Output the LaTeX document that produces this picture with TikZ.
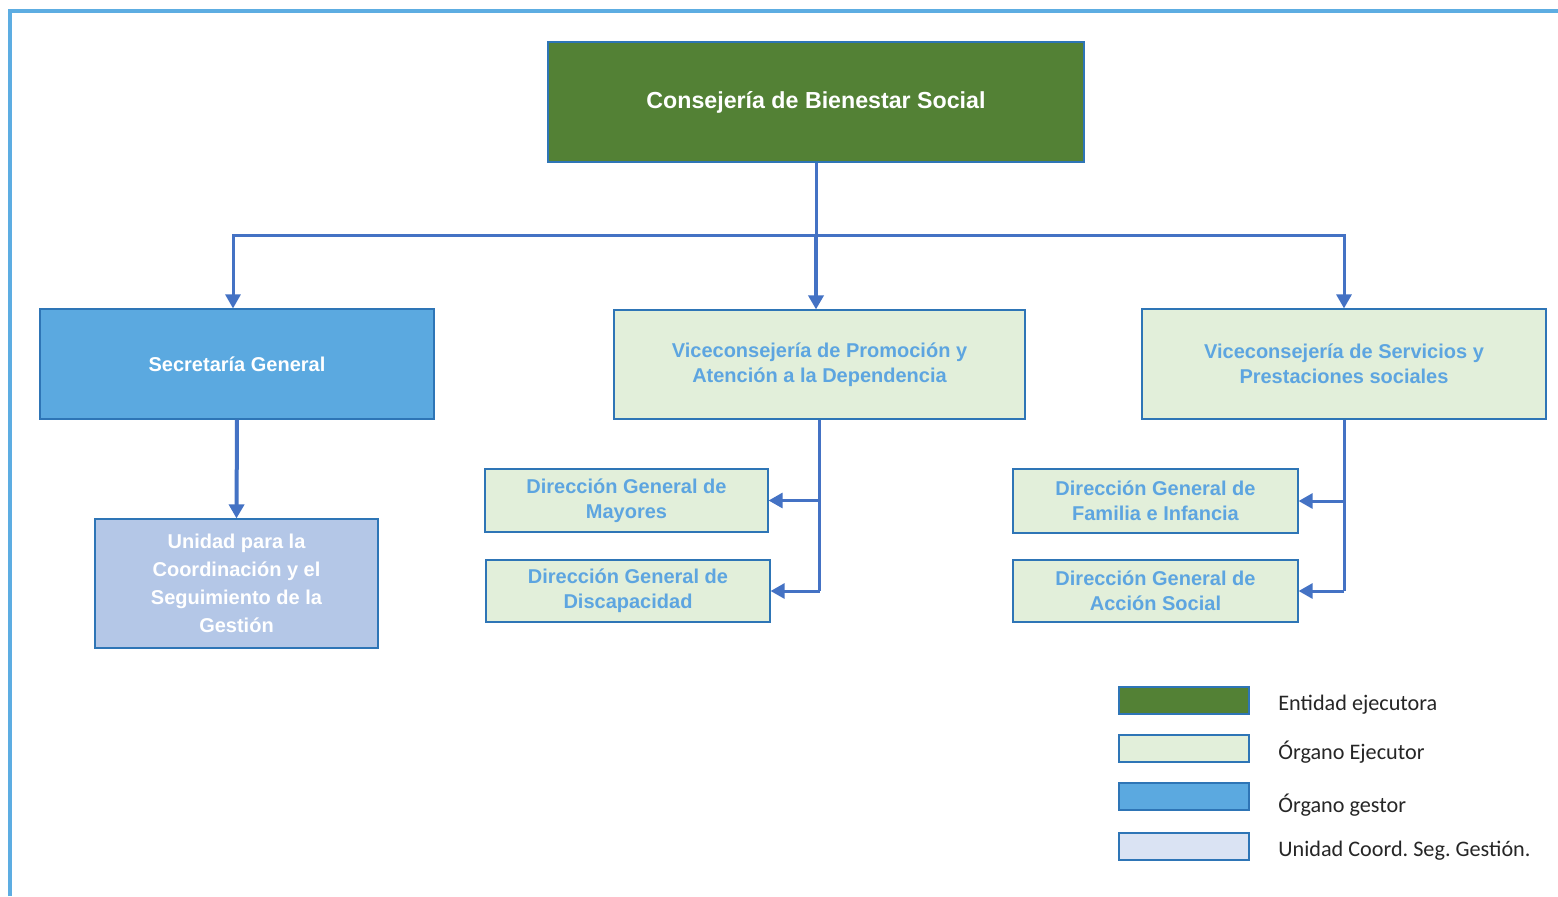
\documentclass[tikz,border=0pt]{standalone}
\usepackage{fontspec}
\setmainfont{Liberation Sans}
\newfontfamily\legfont{Carlito}
\usetikzlibrary{arrows.meta}
\definecolor{cgreen}{HTML}{538135}
\definecolor{cblue}{HTML}{5BA9E0}
\definecolor{clgreen}{HTML}{E2EFDA}
\definecolor{clav}{HTML}{B4C7E7}
\definecolor{clav2}{HTML}{DAE3F3}
\definecolor{cborder}{HTML}{2E75B6}
\definecolor{ctext}{HTML}{5DA5E0}
\definecolor{cconn}{HTML}{4472C4}
\definecolor{cframe}{HTML}{5DADE2}
\definecolor{clegtext}{HTML}{262626}
\tikzset{
  box/.style={draw=cborder, line width=0.6pt, inner sep=0pt, align=center, font=\bfseries\fontsize{10}{12.5}\selectfont},
  greenbox/.style={box, fill=cgreen, text=white},
  bluebox/.style={box, fill=cblue, text=white},
  lgbox/.style={box, fill=clgreen, text=ctext},
  lavbox/.style={box, fill=clav, text=white, font=\bfseries\fontsize{10}{14}\selectfont},
  conn/.style={draw=cconn, line width=1.5pt},
  arr/.style={conn, -{Triangle[width=7.5pt,length=7pt]}},
  legbox/.style={draw=cborder, line width=0.6pt, minimum width=65pt, minimum height=13.5pt, inner sep=0pt},
  legtext/.style={anchor=west, inner sep=0pt, text=clegtext, font=\legfont\fontsize{11.1}{13}\selectfont},
}
\begin{document}
\begin{tikzpicture}[x=0.5pt,y=-0.5pt]
\useasboundingbox (0,0) rectangle (1558,896);
\fill[white] (0,0) rectangle (1558,896);
% frame
\draw[cframe, line width=2.2pt] (10,896) -- (10,11) -- (1558,11);
% nodes
\node[greenbox, minimum width=268pt, minimum height=60pt, font=\bfseries\fontsize{11.6}{13}\selectfont] (top) at (816,102) {Consejería de Bienestar Social};
\node[bluebox, minimum width=197pt, minimum height=55pt] (sec) at (237,364) {Secretaría General};
\node[lavbox, minimum width=141.5pt, minimum height=64.5pt] (uni) at (236.5,583.5) {Unidad para la\\Coordinación y el\\Seguimiento de la\\Gestión};
\node[lgbox, minimum width=205.5pt, minimum height=54.5pt] (v1) at (819.5,364.5) {Viceconsejería de Promoción y\\Atención a la Dependencia};
\node[lgbox, minimum width=202pt, minimum height=55pt] (v2) at (1344,364) {Viceconsejería de Servicios y\\Prestaciones sociales};
\node[lgbox, minimum width=141.5pt, minimum height=31.5pt] (dgm) at (626.5,500.5) {Dirección General de\\Mayores};
\node[lgbox, minimum width=142pt, minimum height=31pt] (dgd) at (628,591) {Dirección General de\\Discapacidad};
\node[lgbox, minimum width=142.5pt, minimum height=32pt] (dgf) at (1155.5,501) {Dirección General de\\Familia e Infancia};
\node[lgbox, minimum width=142.5pt, minimum height=31pt] (dga) at (1155.5,591) {Dirección General de\\Acción Social};
% connectors
\coordinate (j) at (816,235);
\draw[conn] (top.south) -- (j);
\draw[arr] (j) -| ([xshift=-2pt]sec.north);
\draw[arr] (j) -| (v2.north);
\draw[arr, line width=2pt] (j) -- (j |- v1.north);
\draw[arr, line width=2pt] (sec.south) -- (uni.north);
\draw[conn] (v1.south) -- (v1.south |- dgd.east);
\draw[arr] (v1.south |- dgm.east) -- (dgm.east);
\draw[arr] (v1.south |- dgd.east) -- (dgd.east);
\draw[conn] (v2.south) -- (v2.south |- dga.east);
\draw[arr] (v2.south |- dgf.east) -- (dgf.east);
\draw[arr] (v2.south |- dga.east) -- (dga.east);
% legend
\node[legbox, fill=cgreen] (l1) at (1184,700.5) {};
\node[legbox, fill=clgreen] (l2) at (1184,748.5) {};
\node[legbox, fill=cblue] (l3) at (1184,796.5) {};
\node[legbox, fill=clav2] (l4) at (1184,846.5) {};
\node[legtext] (t1) at (1278,705) {Entidad ejecutora};
\node[legtext] (t2) at (1278,752) {Órgano Ejecutor};
\node[legtext] (t3) at (1278,805) {Órgano gestor};
\node[legtext] (t4) at (1278,851) {Unidad Coord.\ Seg.\ Gestión.};
\end{tikzpicture}
\end{document}
